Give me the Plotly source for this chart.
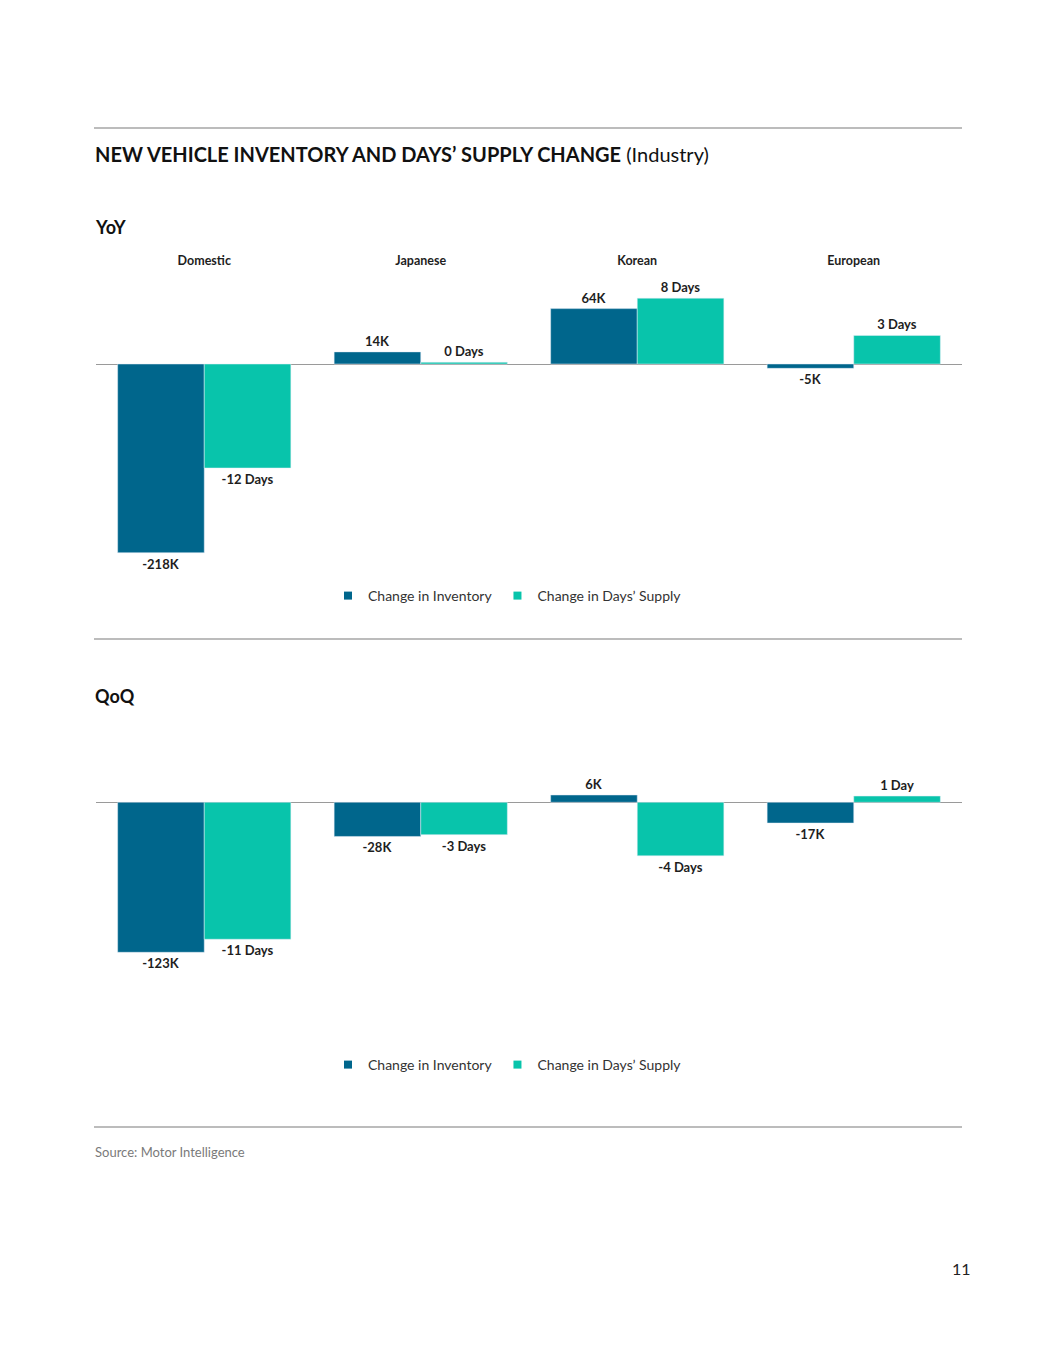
import plotly.graph_objects as go

# ---------------- data ----------------
categories = ["Domestic", "Japanese", "Korean", "European"]

yoy_inventory = [-218, 14, 64, -5]            # thousands of units
yoy_inventory_labels = ["-218K", "14K", "64K", "-5K"]
yoy_days = [-12.0, 0.2, 7.6, 3.3]             # days' supply change
yoy_days_labels = ["-12 Days", "0 Days", "8 Days", "3 Days"]

qoq_inventory = [-123, -28, 6, -17]
qoq_inventory_labels = ["-123K", "-28K", "6K", "-17K"]
qoq_days = [-11.0, -2.6, -4.3, 0.5]
qoq_days_labels = ["-11 Days", "-3 Days", "-4 Days", "1 Day"]

series_names = ["Change in Inventory", "Change in Days\u2019 Supply"]

# ---------------- style ----------------
OFF = 8                      # default page body margin
W, H = 1055 - 2 * OFF, 1365 - 2 * OFF
C_INV = "#00668C"
C_DAYS = "#08C4AB"
TXT = "#1e1e1e"
FONT = "Lato"


def py(px):
    return 1 - (px - OFF) / H


def pxx(px):
    return (px - OFF) / W


fig = go.Figure()

label_font = dict(family=FONT, size=13, color=TXT, weight="bold")

# YoY
fig.add_trace(go.Bar(x=categories, y=yoy_inventory, text=yoy_inventory_labels,
                     textposition="outside", textfont=label_font, cliponaxis=False,
                     constraintext="none", marker_color=C_INV, width=0.4, offset=-0.4,
                     xaxis="x", yaxis="y", showlegend=False, hoverinfo="skip"))
fig.add_trace(go.Bar(x=categories, y=yoy_days, text=yoy_days_labels,
                     textposition="outside", textfont=label_font, cliponaxis=False,
                     constraintext="none", marker_color=C_DAYS, width=0.4, offset=0,
                     xaxis="x", yaxis="y2", showlegend=False, hoverinfo="skip"))
# QoQ
fig.add_trace(go.Bar(x=categories, y=qoq_inventory, text=qoq_inventory_labels,
                     textposition="outside", textfont=label_font, cliponaxis=False,
                     constraintext="none", marker_color=C_INV, width=0.4, offset=-0.4,
                     xaxis="x2", yaxis="y3", showlegend=False, hoverinfo="skip"))
fig.add_trace(go.Bar(x=categories, y=qoq_days, text=qoq_days_labels,
                     textposition="outside", textfont=label_font, cliponaxis=False,
                     constraintext="none", marker_color=C_DAYS, width=0.4, offset=0,
                     xaxis="x2", yaxis="y4", showlegend=False, hoverinfo="skip"))

# legend entries (square markers)
for leg, xa, ya in [("legend", "x", "y"), ("legend2", "x2", "y3")]:
    for name, col in zip(series_names, [C_INV, C_DAYS]):
        fig.add_trace(go.Scatter(x=[None], y=[None], mode="markers", name=name,
                                 marker=dict(symbol="square", size=8, color=col),
                                 xaxis=xa, yaxis=ya, legend=leg, hoverinfo="skip"))

# ---------------- axes ----------------
xdom = [pxx(96), pxx(962)]
yoy_dom = [py(580), py(268)]
qoq_dom = [py(1000), py(740)]

common_y = dict(showgrid=False, showticklabels=False, ticks="", fixedrange=True)

leg_common = dict(orientation="h", xanchor="left", yanchor="middle",
                  font=dict(family=FONT, size=14, color="#333333"),
                  bgcolor="rgba(0,0,0,0)")

fig.update_layout(
    xaxis=dict(domain=xdom, anchor="y", side="top", type="category",
               categoryorder="array", categoryarray=categories, range=[-0.5, 3.5],
               showgrid=False, showline=False, ticks="", zeroline=False,
               tickfont=dict(family=FONT, size=12.5, color=TXT, weight="bold")),
    yaxis=dict(domain=yoy_dom, range=[-249.5, 110.9], zeroline=True,
               zerolinecolor="#9a9a9a", zerolinewidth=1, **common_y),
    yaxis2=dict(domain=yoy_dom, overlaying="y", range=[-24.92, 11.08],
                zeroline=False, **common_y),
    xaxis2=dict(domain=xdom, anchor="y3", type="category",
                categoryorder="array", categoryarray=categories, range=[-0.5, 3.5],
                showgrid=False, showline=False, ticks="", zeroline=False,
                showticklabels=False),
    yaxis3=dict(domain=qoq_dom, range=[-162.1, 51.09], zeroline=True,
                zerolinecolor="#9a9a9a", zerolinewidth=1, **common_y),
    yaxis4=dict(domain=qoq_dom, overlaying="y3", range=[-15.88, 5.004],
                zeroline=False, **common_y),
    barmode="overlay",
    width=W, height=H,
    margin=dict(l=0, r=0, t=0, b=0),
    paper_bgcolor="white", plot_bgcolor="white",
    font=dict(family=FONT, color=TXT),
    legend=dict(x=pxx(328), y=py(596), **leg_common),
    legend2=dict(x=pxx(328), y=py(1065), **leg_common),
)

# ---------------- decorations ----------------
for ypx in [128, 639, 1127]:
    fig.add_shape(type="line", xref="paper", yref="paper", x0=pxx(94), x1=pxx(962),
                  y0=py(ypx), y1=py(ypx), line=dict(color="#a6a6a6", width=1.5))

annots = [
    dict(text="<b>NEW VEHICLE INVENTORY AND DAYS\u2019 SUPPLY CHANGE</b> (Industry)",
         x=pxx(93), y=py(154), size=20, color="#111111"),
    dict(text="<b>YoY</b>", x=pxx(93), y=py(227), size=18, color="#111111"),
    dict(text="<b>QoQ</b>", x=pxx(93), y=py(696), size=18, color="#111111"),
    dict(text="Source: Motor Intelligence", x=pxx(93), y=py(1152), size=13, color="#7a7a7a"),
]
for a in annots:
    fig.add_annotation(text=a["text"], xref="paper", yref="paper", x=a["x"], y=a["y"],
                       xanchor="left", yanchor="middle", showarrow=False,
                       font=dict(family=FONT, size=a["size"], color=a["color"]))
fig.add_annotation(text="11", xref="paper", yref="paper", x=pxx(961), y=py(1268),
                   xanchor="center", yanchor="middle", showarrow=False,
                   font=dict(family=FONT, size=16, color="#222222"))

fig.write_html("out.html")
